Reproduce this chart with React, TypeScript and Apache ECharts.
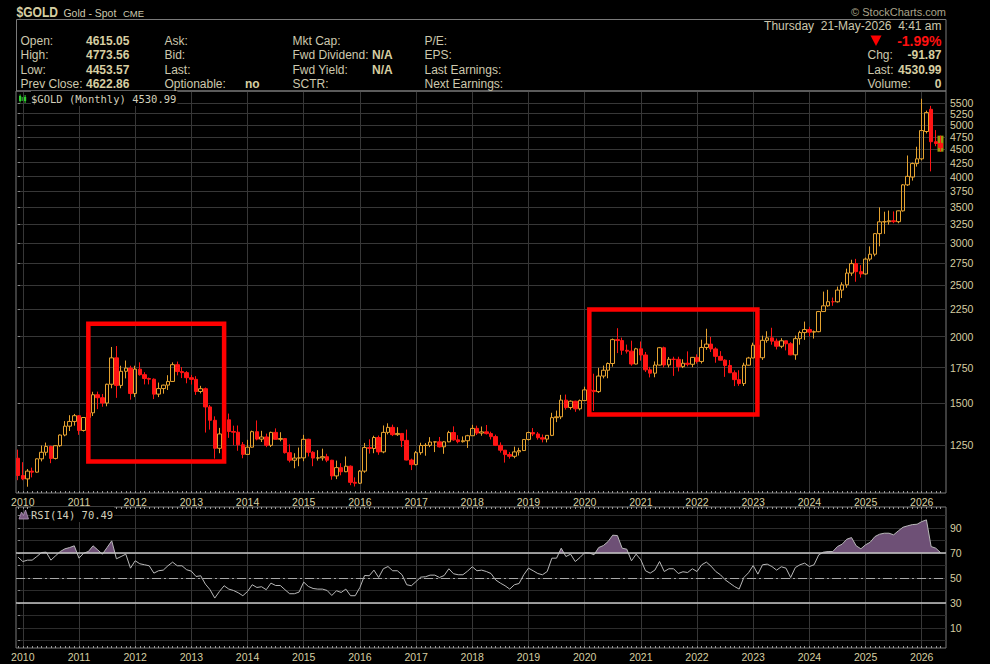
import React, { useEffect, useRef } from "react";
import * as echarts from "echarts";

// ---- DATA (monthly bars, index 0 = Dec 2009 ... index 197 = May 2026) ----
const opens = [
  1182,
  1097, 1081, 1118, 1113, 1179, 1213, 1244, 1181, 1248, 1307, 1358, 1386,
  1421, 1333, 1410, 1439, 1556, 1536, 1501, 1628, 1825, 1620, 1722, 1746,
  1564, 1738, 1697, 1669, 1664, 1560, 1598, 1622, 1648, 1772, 1720, 1712,
  1675, 1663, 1578, 1597, 1476, 1393, 1234, 1313, 1396, 1327, 1323, 1253,
  1202, 1240, 1326, 1284, 1296, 1250, 1322, 1283, 1287, 1211, 1172, 1183,
  1184, 1283, 1213, 1183, 1184, 1190, 1172, 1095, 1135, 1115, 1142, 1065,
  1061, 1118, 1238, 1233, 1293, 1215, 1322, 1351, 1309, 1316, 1277, 1173,
  1150, 1211, 1249, 1250, 1268, 1269, 1242, 1269, 1321, 1280, 1270, 1275,
  1303, 1345, 1318, 1325, 1315, 1298, 1250, 1224, 1201, 1192, 1215, 1222,
  1282, 1321, 1313, 1292, 1284, 1305, 1409, 1414, 1520, 1472, 1513, 1464,
  1517, 1589, 1585, 1577, 1687, 1730, 1781, 1975, 1967, 1886, 1879, 1777,
  1898, 1848, 1733, 1708, 1769, 1907, 1770, 1814, 1813, 1757, 1783, 1775,
  1829, 1797, 1909, 1937, 1897, 1837, 1807, 1766, 1711, 1661, 1633, 1768,
  1824, 1928, 1826, 1969, 1990, 1962, 1919, 1965, 1940, 1849, 1983, 2036,
  2063, 2040, 2044, 2230, 2286, 2327, 2326, 2447, 2503, 2634, 2744, 2650,
  2624, 2798, 2858, 3124, 3288, 3289, 3303, 3290, 3448, 3858, 3990, 4230,
  4318, 4860, 5350, 4650, 4615.05,
];
const highs = [
  1227,
  1162, 1128, 1135, 1181, 1249, 1265, 1248, 1250, 1310, 1388, 1424, 1432,
  1424, 1411, 1448, 1576, 1577, 1561, 1632, 1913, 1921, 1764, 1804, 1764,
  1764, 1790, 1715, 1676, 1670, 1640, 1625, 1693, 1790, 1796, 1754, 1723,
  1695, 1686, 1617, 1605, 1488, 1417, 1348, 1433, 1434, 1361, 1362, 1268,
  1280, 1332, 1392, 1331, 1315, 1326, 1345, 1323, 1290, 1255, 1208, 1238,
  1308, 1286, 1219, 1224, 1232, 1205, 1174, 1170, 1157, 1191, 1146, 1088,
  1123, 1263, 1283, 1303, 1304, 1362, 1375, 1367, 1352, 1318, 1338, 1180,
  1220, 1264, 1262, 1295, 1271, 1296, 1272, 1331, 1357, 1306, 1299, 1308,
  1366, 1361, 1356, 1365, 1326, 1309, 1266, 1225, 1214, 1243, 1237, 1284,
  1326, 1347, 1324, 1310, 1306, 1439, 1453, 1555, 1557, 1518, 1516, 1524,
  1611, 1689, 1704, 1748, 1765, 1789, 1984, 2075, 1992, 1933, 1966, 1906,
  1959, 1872, 1755, 1797, 1913, 1916, 1832, 1834, 1834, 1814, 1877, 1831,
  1853, 1974, 2070, 1998, 1910, 1879, 1814, 1808, 1729, 1730, 1787, 1833,
  1949, 1959, 2009, 2048, 2079, 1984, 1987, 1966, 1953, 2009, 2052, 2135,
  2088, 2054, 2236, 2431, 2450, 2369, 2484, 2531, 2685, 2790, 2801, 2726,
  2817, 2956, 3128, 3500, 3435, 3452, 3439, 3453, 3871, 4381, 4250, 4550,
  5600, 5320, 5430, 4890, 4773.56,
];
const lows = [
  1075,
  1075, 1045, 1088, 1111, 1166, 1196, 1157, 1176, 1242, 1300, 1330, 1361,
  1308, 1327, 1383, 1419, 1462, 1477, 1480, 1600, 1535, 1600, 1670, 1523,
  1540, 1690, 1627, 1627, 1527, 1540, 1563, 1588, 1646, 1692, 1672, 1635,
  1626, 1555, 1565, 1321, 1338, 1180, 1208, 1270, 1291, 1251, 1221, 1182,
  1200, 1238, 1277, 1268, 1240, 1241, 1282, 1272, 1206, 1161, 1132, 1142,
  1167, 1191, 1142, 1170, 1170, 1162, 1077, 1080, 1098, 1113, 1052, 1046,
  1058, 1110, 1206, 1208, 1200, 1208, 1311, 1301, 1302, 1241, 1171, 1123,
  1146, 1200, 1195, 1240, 1214, 1238, 1205, 1267, 1275, 1261, 1265, 1236,
  1302, 1307, 1303, 1310, 1282, 1246, 1211, 1160, 1180, 1182, 1196, 1221,
  1276, 1301, 1281, 1266, 1266, 1301, 1382, 1400, 1459, 1459, 1445, 1454,
  1515, 1563, 1451, 1568, 1670, 1671, 1757, 1863, 1849, 1860, 1764, 1775,
  1803, 1717, 1677, 1678, 1766, 1751, 1751, 1688, 1721, 1746, 1759, 1753,
  1780, 1781, 1890, 1872, 1787, 1805, 1681, 1709, 1615, 1617, 1616, 1765,
  1823, 1804, 1809, 1949, 1932, 1893, 1903, 1885, 1846, 1810, 1932, 1973,
  2002, 1984, 2039, 2229, 2277, 2286, 2318, 2364, 2472, 2603, 2537, 2583,
  2614, 2772, 2833, 2957, 3121, 3247, 3268, 3268, 3436, 3840, 3930, 4175,
  4290, 4820, 4090, 4560, 4453.57,
];
const closes = [
  1097,
  1081, 1118, 1113, 1179, 1213, 1244, 1181, 1248, 1307, 1358, 1386, 1421,
  1333, 1410, 1439, 1556, 1536, 1501, 1628, 1825, 1620, 1722, 1746, 1564,
  1738, 1697, 1669, 1664, 1560, 1598, 1622, 1648, 1772, 1720, 1712, 1675,
  1663, 1578, 1597, 1476, 1393, 1234, 1313, 1396, 1327, 1323, 1253, 1202,
  1240, 1326, 1284, 1296, 1250, 1322, 1283, 1287, 1211, 1172, 1183, 1184,
  1283, 1213, 1183, 1184, 1190, 1172, 1095, 1135, 1115, 1142, 1065, 1061,
  1118, 1238, 1233, 1293, 1215, 1322, 1351, 1309, 1316, 1277, 1173, 1150,
  1211, 1249, 1250, 1268, 1269, 1242, 1269, 1321, 1280, 1270, 1275, 1303,
  1345, 1318, 1325, 1315, 1298, 1250, 1224, 1201, 1192, 1215, 1222, 1282,
  1321, 1313, 1292, 1284, 1305, 1409, 1414, 1520, 1472, 1513, 1464, 1517,
  1589, 1585, 1577, 1687, 1730, 1781, 1975, 1967, 1886, 1879, 1777, 1898,
  1848, 1733, 1708, 1769, 1907, 1770, 1814, 1813, 1757, 1783, 1775, 1829,
  1797, 1909, 1937, 1897, 1837, 1807, 1766, 1711, 1661, 1633, 1768, 1824,
  1928, 1826, 1969, 1990, 1962, 1919, 1965, 1940, 1849, 1983, 2036, 2063,
  2040, 2044, 2230, 2286, 2327, 2326, 2447, 2503, 2634, 2744, 2650, 2624,
  2798, 2858, 3124, 3288, 3289, 3303, 3290, 3448, 3858, 4003, 4230, 4318,
  4880, 5275, 4650, 4615, 4530.99,
];
const rsi14 = [
  66.8,
  63.3, 64.4, 64.4, 67.3, 70.5, 70.8, 64.4, 67.9, 71.3, 73.5, 74.5, 75.9,
  66.0, 70.0, 71.3, 75.9, 72.7, 69.2, 74.5, 79.9, 65.5, 67.3, 69.2, 58.0,
  63.9, 61.5, 60.7, 59.9, 54.0, 55.9, 56.4, 59.9, 62.8, 59.9, 59.9, 56.7,
  55.6, 51.3, 51.9, 45.2, 40.7, 34.0, 39.3, 43.9, 41.2, 40.1, 38.3, 35.9,
  39.3, 44.7, 42.5, 43.1, 40.7, 46.0, 44.1, 44.1, 40.7, 37.5, 37.5, 38.8,
  46.8, 43.3, 41.7, 41.2, 41.2, 40.1, 36.1, 39.9, 38.5, 41.2, 35.9, 35.9,
  42.5, 52.1, 51.9, 56.4, 50.5, 57.5, 59.3, 55.9, 55.9, 52.7, 44.7, 43.9,
  47.3, 50.8, 51.1, 52.4, 52.4, 50.5, 52.1, 57.5, 53.5, 52.7, 52.7, 55.6,
  59.1, 55.9, 56.4, 55.3, 53.7, 48.5, 46.0, 43.9, 41.2, 44.7, 45.7, 52.7,
  58.0, 55.9, 53.7, 52.7, 55.3, 66.0, 66.0, 74.0, 67.3, 69.2, 63.3, 66.5,
  70.3, 70.2, 68.7, 74.5, 76.1, 79.3, 84.4, 84.1, 74.0, 73.2, 63.9, 69.2,
  64.7, 55.9, 54.0, 56.4, 63.3, 55.3, 57.5, 57.5, 53.7, 55.1, 54.5, 57.5,
  55.3, 60.7, 62.8, 59.6, 55.3, 52.7, 48.7, 46.0, 43.3, 41.2, 50.5, 54.3,
  60.1, 53.2, 60.7, 61.2, 59.3, 56.4, 59.1, 58.0, 50.5, 58.5, 60.7, 62.0,
  59.3, 60.7, 68.7, 70.8, 71.3, 71.3, 75.3, 77.2, 81.2, 82.5, 75.9, 73.5,
  76.7, 78.8, 83.3, 85.2, 86.0, 86.0, 84.7, 87.9, 90.8, 91.9, 92.9, 93.2,
  95.3, 96.7, 75.3, 74.0, 70.49,
];

// first bar of each year (Jan) and its label
const yearTickIndex = [1, 13, 25, 37, 49, 61, 73, 85, 97, 109, 121, 133, 145, 157, 169, 181, 193];
const yearLabels = ["2010", "2011", "2012", "2013", "2014", "2015", "2016", "2017", "2018", "2019", "2020", "2021", "2022", "2023", "2024", "2025", "2026"];
const priceTicks = [1250, 1500, 1750, 2000, 2250, 2500, 2750, 3000, 3250, 3500, 3750, 4000, 4250, 4500, 4750, 5000, 5250, 5500];
const priceRange = [1017, 5791];
const rsiGridLevels = [0, 10, 20, 30, 40, 50, 60, 70, 80, 90, 100];
const rsiLabelLevels = [10, 30, 50, 70, 90];
const rsiRange = [-6, 107];
const rsiOverbought = 70;
const rsiMid = 50;
const rsiOversold = 30;
// annotation boxes drawn on the chart (bar index range, price range)
const highlightBoxes = [
  { from: 15, to: 44, low: 1166, high: 2116 },
  { from: 122, to: 157.9, low: 1429, high: 2250 },
];

// header quote
const quoteCol1 = [["Open:", "4615.05"], ["High:", "4773.56"], ["Low:", "4453.57"], ["Prev Close:", "4622.86"]];
const quoteCol2 = [["Ask:", ""], ["Bid:", ""], ["Last:", ""], ["Optionable:", "no"]];
const quoteCol3 = [["Mkt Cap:", ""], ["Fwd Dividend:", "N/A"], ["Fwd Yield:", "N/A"], ["SCTR:", ""]];
const quoteCol4 = ["P/E:", "EPS:", "Last Earnings:", "Next Earnings:"];
const quoteRight = [["Chg:", "-91.87"], ["Last:", "4530.99"], ["Volume:", "0"]];
const quoteDate = "Thursday\u00a0 21-May-2026\u00a0 4:41 am";
const quotePct = "-1.99%";

// ---- STYLE ----
const SANS = '"Liberation Sans", Arial, Helvetica, sans-serif';
const MONO = '"DejaVu Sans Mono", monospace';
const KHAKI = "#d6cea2";
const LABEL = "#cdc8ae";
const GRID_LINE = "#373737";
const BORDER = "#7a7a7a";
const UP = "#e6a330";
const DOWN = "#ff1414";
const X_MIN = -0.45;
const X_MAX = 198.18;

function txt(x: number, y: number, text: string, o: any = {}) {
  const align = o.align || "left";
  return {
    type: "text",
    x,
    y,
    scaleX: o.scaleX || 1,
    silent: true,
    z: 100,
    style: {
      text,
      fill: o.fill || LABEL,
      fontSize: o.size || 12,
      fontWeight: o.bold ? "bold" : "normal",
      fontFamily: o.family || SANS,
      align,
      textAlign: align,
      verticalAlign: "middle",
      textVerticalAlign: "middle",
      backgroundColor: o.bg,
      padding: o.pad,
    },
  };
}

function buildOption() {
  const ln = Math.log;
  const candleData = opens.map((o, i) => [i, ln(o), ln(closes[i]), ln(lows[i]), ln(highs[i])]);
  const last = opens.length - 1;
  const lastRange = [[last, ln(lows[last]), ln(highs[last]), ln(lows[last]), ln(highs[last])]];
  const rsiData = rsi14.map((v, i) => [i, v]);
  const monthTicks = opens.map((_, i) => i);
  const yearFmt = (v: number) => {
    const k = yearTickIndex.findIndex((t) => Math.abs(t - v) < 0.01);
    return k >= 0 ? yearLabels[k] : "";
  };
  // labels are split over two overlaid axes so that none is auto-hidden
  const priceLabelsA = priceTicks.filter((_, i) => i % 2 === 0).map(ln);
  const priceLabelsB = priceTicks.filter((_, i) => i % 2 === 1).map(ln);
  const priceFmt = (v: number) => String(Math.round(Math.exp(v)));

  const rows = [40.7, 55.2, 69.8, 84.3];
  const g: any[] = [];
  // title
  g.push(txt(16.5, 12, "$GOLD", { size: 14, bold: true, fill: KHAKI, scaleX: 0.86 }));
  g.push(txt(63.5, 12.5, "Gold - Spot", { size: 11, fill: LABEL, scaleX: 0.95 }));
  g.push(txt(123, 13, "CME", { size: 9.5, fill: LABEL }));
  g.push(txt(946, 12, "\u00a9 StockCharts.com", { size: 11, fill: "#a9a38a", align: "right" }));
  g.push({
    type: "rect",
    silent: true,
    z: 99,
    shape: { x: 16.5, y: 19.5, width: 929.5, height: 71.5 },
    style: { fill: "none", stroke: BORDER, lineWidth: 1 },
  });
  quoteCol1.forEach((r, i) => {
    g.push(txt(20.5, rows[i], r[0]));
    g.push(txt(86, rows[i], r[1], { bold: true, fill: KHAKI }));
  });
  quoteCol2.forEach((r, i) => {
    g.push(txt(164.5, rows[i], r[0]));
    if (r[1]) g.push(txt(245, rows[i], r[1], { bold: true, fill: KHAKI }));
  });
  quoteCol3.forEach((r, i) => {
    g.push(txt(292.5, rows[i], r[0]));
    if (r[1]) g.push(txt(372, rows[i], r[1], { bold: true, fill: KHAKI }));
  });
  quoteCol4.forEach((r, i) => g.push(txt(424.5, rows[i], r)));
  g.push(txt(941.5, 26, quoteDate, { align: "right" }));
  g.push({
    type: "polygon",
    silent: true,
    z: 100,
    shape: { points: [[870.5, 35.5], [881.5, 35.5], [876, 46]] },
    style: { fill: "#ff0000" },
  });
  g.push(txt(941.5, 41, quotePct, { size: 14, bold: true, fill: "#ff1010", align: "right" }));
  quoteRight.forEach((r, i) => {
    g.push(txt(867.5, rows[i + 1], r[0]));
    g.push(txt(941.5, rows[i + 1], r[1], { bold: true, fill: KHAKI, align: "right" }));
  });
  // panel labels
  g.push(txt(31, 98.5, "$GOLD (Monthly) 4530.99", { size: 10.5, family: MONO, fill: "#d2cfbb", bg: "#000", pad: [2, 1, 2, 0] }));
  g.push({ type: "rect", silent: true, z: 101, shape: { x: 19, y: 96, width: 2.2, height: 5 }, style: { fill: "#2fd22f" } });
  g.push({ type: "line", silent: true, z: 101, shape: { x1: 20.1, y1: 94.5, x2: 20.1, y2: 102.5 }, style: { stroke: "#2fd22f", lineWidth: 1 } });
  g.push({ type: "rect", silent: true, z: 101, shape: { x: 24, y: 97, width: 2.2, height: 4 }, style: { fill: "#2fd22f" } });
  g.push({ type: "line", silent: true, z: 101, shape: { x1: 25.1, y1: 95, x2: 25.1, y2: 103 }, style: { stroke: "#2fd22f", lineWidth: 1 } });
  g.push({ type: "line", silent: true, z: 101, shape: { x1: 22.2, y1: 97, x2: 22.2, y2: 101 }, style: { stroke: "#2fd22f", lineWidth: 1 } });
  g.push(txt(31, 514.5, "RSI(14) 70.49", { size: 10.5, family: MONO, fill: "#d2cfbb", bg: "#000", pad: [2, 1, 2, 0] }));
  g.push({
    type: "polygon",
    silent: true,
    z: 101,
    shape: { points: [[19, 519], [21.5, 512], [23.5, 515.5], [25.5, 510], [28.5, 519]] },
    style: { fill: "#7a5a82", stroke: "#b49abb", lineWidth: 0.8 },
  });

  const xAxisBase = (gridIndex: number) => ({
    type: "value",
    gridIndex,
    min: X_MIN,
    max: X_MAX,
    axisLine: { show: false },
    axisTick: { show: false, customValues: yearTickIndex },
    axisLabel: {
      customValues: yearTickIndex,
      formatter: yearFmt,
      color: KHAKI,
      fontSize: 10.5,
      fontFamily: SANS,
      margin: 3,
      showMinLabel: true,
      showMaxLabel: true,
      hideOverlap: false,
    },
    splitLine: { show: true, lineStyle: { color: GRID_LINE, width: 1 } },
  });
  const tickAxis = (gridIndex: number, position: string) => ({
    type: "value",
    gridIndex,
    position,
    min: X_MIN,
    max: X_MAX,
    axisLine: { show: false },
    axisTick: { show: true, inside: true, length: 2, customValues: monthTicks, lineStyle: { color: "#9a9a9a", width: 1 } },
    axisLabel: { show: false },
    splitLine: { show: false },
  });
  const priceLabelStyle = {
    formatter: priceFmt,
    color: KHAKI,
    fontSize: 10.5,
    fontFamily: SANS,
    margin: 4,
    showMinLabel: true,
    showMaxLabel: true,
    hideOverlap: false,
  };

  return {
    animation: false,
    backgroundColor: "#000",
    grid: [
      { left: 16, right: 44, top: 91, height: 402, show: true, borderColor: BORDER, borderWidth: 1, backgroundColor: "transparent", outerBoundsMode: "none", containLabel: false },
      { left: 16, right: 44, top: 507, height: 141, show: true, borderColor: BORDER, borderWidth: 1, backgroundColor: "transparent", outerBoundsMode: "none", containLabel: false },
    ],
    xAxis: [xAxisBase(0), xAxisBase(1), tickAxis(0, "bottom"), tickAxis(1, "top"), tickAxis(1, "bottom")],
    yAxis: [
      {
        type: "value",
        gridIndex: 0,
        position: "right",
        min: ln(priceRange[0]),
        max: ln(priceRange[1]),
        axisLine: { show: false },
        axisTick: { show: true, length: 2, customValues: priceTicks.map(ln), lineStyle: { color: "#8a8a8a" } },
        axisLabel: { ...priceLabelStyle, customValues: priceLabelsA },
        splitLine: { show: true, lineStyle: { color: GRID_LINE, width: 1 } },
      },
      {
        type: "value",
        gridIndex: 1,
        position: "right",
        min: rsiRange[0],
        max: rsiRange[1],
        axisLine: { show: false },
        axisTick: { show: true, length: 2, customValues: rsiGridLevels, lineStyle: { color: "#8a8a8a" } },
        axisLabel: {
          customValues: rsiLabelLevels,
          color: KHAKI,
          fontSize: 10.5,
          fontFamily: SANS,
          margin: 4,
          showMinLabel: true,
          showMaxLabel: true,
        },
        splitLine: { show: true, lineStyle: { color: "#2c2c2c", width: 1 } },
      },
      {
        type: "value",
        gridIndex: 0,
        position: "right",
        offset: 0,
        min: ln(priceRange[0]),
        max: ln(priceRange[1]),
        axisLine: { show: false },
        axisTick: { show: false, customValues: priceLabelsB },
        axisLabel: { ...priceLabelStyle, customValues: priceLabelsB },
        splitLine: { show: false },
      },
    ],
    visualMap: [
      {
        type: "piecewise",
        show: false,
        seriesIndex: 2,
        dimension: 1,
        pieces: [
          { gte: -20, lte: rsiOverbought, color: "rgba(0,0,0,0)" },
          { gt: rsiOverbought, lte: 150, color: "#6e5076" },
        ],
        outOfRange: { color: "rgba(0,0,0,0)" },
      },
    ],
    series: [
      {
        type: "candlestick",
        name: "lastRange",
        xAxisIndex: 0,
        yAxisIndex: 0,
        z: 1,
        silent: true,
        barWidth: 7.3,
        encode: { x: 0, y: [1, 2, 3, 4] },
        data: lastRange,
        itemStyle: { color: "#9b9b0e", color0: "#9b9b0e", borderColor: "#9b9b0e", borderColor0: "#9b9b0e", borderWidth: 0 },
      },
      {
        type: "candlestick",
        name: "$GOLD",
        xAxisIndex: 0,
        yAxisIndex: 0,
        z: 2,
        silent: true,
        barWidth: 4,
        encode: { x: 0, y: [1, 2, 3, 4] },
        data: candleData,
        itemStyle: {
          color: "rgba(0,0,0,0)",
          color0: DOWN,
          borderColor: UP,
          borderColor0: DOWN,
          borderWidth: 1,
        },
        markArea: {
          silent: true,
          z: 5,
          label: { show: false },
          itemStyle: { color: "rgba(0,0,0,0)", borderColor: "#ff0000", borderWidth: 4.5 },
          data: highlightBoxes.map((b) => [
            { xAxis: b.from, yAxis: ln(b.high) },
            { xAxis: b.to, yAxis: ln(b.low) },
          ]),
        },
      },
      {
        type: "line",
        name: "rsiFill",
        xAxisIndex: 1,
        yAxisIndex: 1,
        z: 1,
        silent: true,
        symbol: "none",
        data: rsiData,
        lineStyle: { width: 0, opacity: 0 },
        areaStyle: { origin: rsiOverbought, opacity: 1 },
      },
      {
        type: "line",
        name: "RSI(14)",
        xAxisIndex: 1,
        yAxisIndex: 1,
        z: 3,
        silent: true,
        symbol: "none",
        data: rsiData,
        lineStyle: { color: "#b8b8b8", width: 1 },
        markLine: {
          silent: true,
          symbol: ["none", "none"],
          label: { show: false },
          lineStyle: { color: "#c6c6c6", width: 1.5, type: "solid" },
          data: [
            { yAxis: rsiOverbought },
            { yAxis: rsiOversold },
            { yAxis: rsiMid, lineStyle: { color: "#a8a8a8", width: 1, type: [9, 3, 2, 3] } },
          ],
        },
      },
    ],
    graphic: { elements: g },
  };
}

export default function App() {
  const ref = useRef<HTMLDivElement>(null);
  useEffect(() => {
    const el = ref.current;
    if (!el) return;
    const chart = echarts.init(el, undefined, { renderer: "svg" });
    chart.setOption(buildOption() as any);
    return () => chart.dispose();
  }, []);
  return (
    <div
      ref={ref}
      style={{ position: "fixed", left: 0, top: 0, width: 990, height: 664, background: "#000" }}
    />
  );
}
